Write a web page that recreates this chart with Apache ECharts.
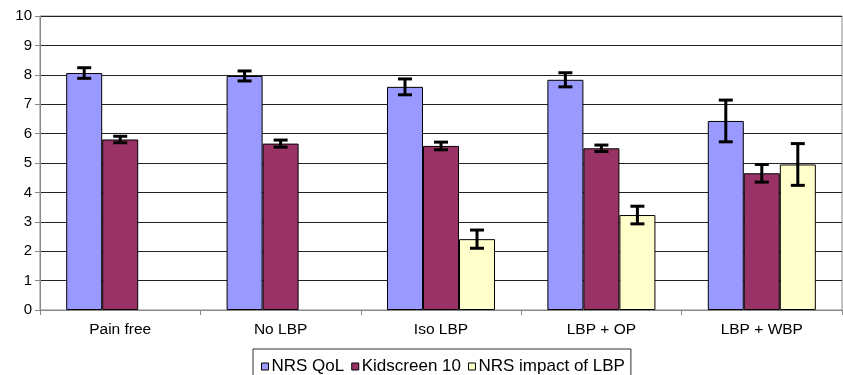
<!DOCTYPE html>
<html><head><meta charset="utf-8">
<script src="https://cdn.jsdelivr.net/npm/echarts@6/dist/echarts.min.js"></script>
<style>html,body{margin:0;padding:0;background:#fff}#c{width:843px;height:375px}</style>
</head><body><div id="c"></div>
<script>
var categories = ['Pain free', 'No LBP', 'Iso LBP', 'LBP + OP', 'LBP + WBP'];
var seriesNames = ['NRS QoL', 'Kidscreen 10', 'NRS impact of LBP'];
var qolValues = [8.06, 7.96, 7.59, 7.83, 6.43];
var qolErrors = [0.18, 0.17, 0.27, 0.24, 0.71];
var kidValues = [5.80, 5.66, 5.58, 5.50, 4.65];
var kidErrors = [0.11, 0.12, 0.13, 0.11, 0.30];
var impValues = [null, null, 2.41, 3.23, 4.95];
var impErrors = [null, null, 0.31, 0.30, 0.71];
var yTicks = [0,1,2,3,4,5,6,7,8,9,10];
var colors = ['#9999FF', '#993366', '#FFFFCC'];

var chart = echarts.init(document.getElementById('c'), null, {renderer:'canvas'});
var font = 'Liberation Sans, Arial, sans-serif';
var BW = 0.2245;

function errSeries(vals, errs, idx) {
  var data = [];
  for (var i = 0; i < vals.length; i++) {
    if (vals[i] != null) data.push([i, vals[i], errs[i]]);
  }
  return {
    type: 'custom',
    name: seriesNames[idx] + ' err',
    data: data,
    z: 10,
    silent: true,
    renderItem: function (params, api) {
      var c = api.value(0), v = api.value(1), e = api.value(2);
      var catW = api.size([1, 0])[0];
      var off = catW * BW * (idx - 1);
      var top = api.coord([c, v + e]);
      var bot = api.coord([c, v - e]);
      var x = top[0] + off;
      var hw = 7;
      var st = {stroke: '#000', lineWidth: 3};
      return {type: 'group', children: [
        {type: 'line', shape: {x1: x, y1: top[1], x2: x, y2: bot[1]}, style: st},
        {type: 'line', shape: {x1: x - hw, y1: top[1], x2: x + hw, y2: top[1]}, style: st},
        {type: 'line', shape: {x1: x - hw, y1: bot[1], x2: x + hw, y2: bot[1]}, style: st}
      ]};
    },
    encode: {x: 0, y: 1}
  };
}

function barSeries(vals, idx) {
  return {
    type: 'bar',
    name: seriesNames[idx],
    data: vals.map(function (v) { return v == null ? '-' : v; }),
    barWidth: (BW * 100) + '%',
    barGap: '0%',
    itemStyle: {color: colors[idx], borderColor: '#000', borderWidth: 1}
  };
}

chart.setOption({
  animation: false,
  backgroundColor: '#fff',
  color: colors,
  grid: {left: 40, right: 1, top: 16, bottom: 65, show: true, borderColor: '#888', borderWidth: 1},
  legend: {
    data: seriesNames,
    top: 349,
    left: 253,
    icon: 'rect',
    itemWidth: 7,
    itemHeight: 7,
    itemGap: 7,
    padding: [9, 6, 9, 8],
    borderColor: '#333',
    borderWidth: 1,
    textStyle: {fontFamily: font, fontSize: 17, color: '#000', padding: [0, 0, 0, -2]},
    itemStyle: {borderColor: '#000', borderWidth: 1}
  },
  xAxis: {
    type: 'category',
    data: categories,
    axisLine: {lineStyle: {color: '#888', width: 1}},
    axisTick: {show: true, length: 5, lineStyle: {color: '#888'}},
    axisLabel: {fontFamily: font, fontSize: 15.5, color: '#000', margin: 12},
    splitLine: {show: false}
  },
  yAxis: {
    type: 'value',
    min: 0, max: 10, interval: 1,
    axisLine: {show: true, lineStyle: {color: '#888', width: 1}},
    axisTick: {show: true, length: 5, lineStyle: {color: '#888'}},
    axisLabel: {fontFamily: font, fontSize: 15, color: '#000', margin: 8,
      formatter: function (v) { return yTicks.indexOf(v) >= 0 ? String(v) : ''; }},
    splitLine: {show: true, lineStyle: {color: '#222', width: 1}}
  },
  series: [
    barSeries(qolValues, 0),
    barSeries(kidValues, 1),
    barSeries(impValues, 2),
    errSeries(qolValues, qolErrors, 0),
    errSeries(kidValues, kidErrors, 1),
    errSeries(impValues, impErrors, 2)
  ]
});
</script></body></html>
